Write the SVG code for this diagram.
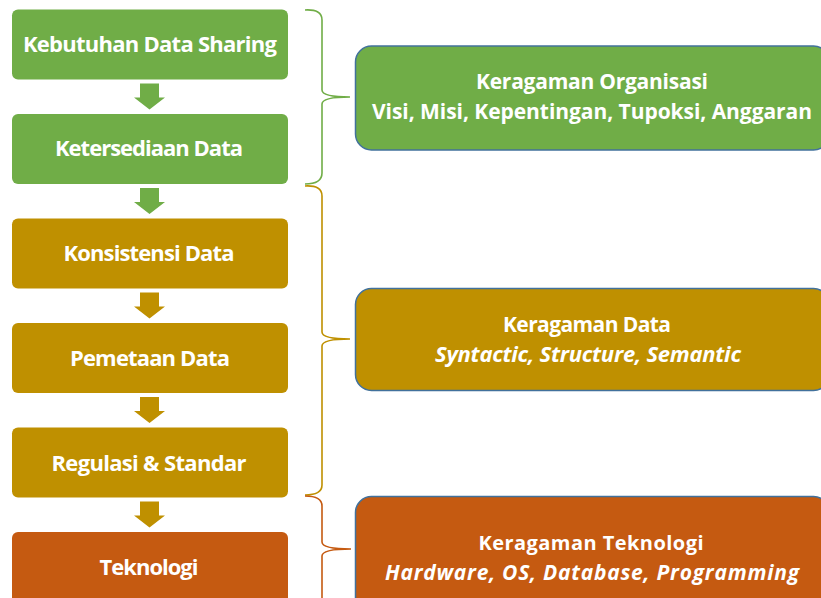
<svg xmlns="http://www.w3.org/2000/svg" width="821" height="598" viewBox="0 0 821 598">
<style>
.lb{stroke:none}
.g{fill:#70AD47}
.y{fill:#BF9000}
.o{fill:#C55A11}
.rb{stroke:#41719C;stroke-width:1.5}
.t{font-family:"Open Sans","Liberation Sans",sans-serif;font-weight:bold;fill:#fff;text-anchor:middle}
.lt{font-size:22px}
.rt{font-size:21px}
.it{font-style:italic;font-size:22px}
.br{fill:none;stroke-width:1.6}
</style>
<rect width="821" height="598" fill="#fff"/>
<g id="n1"><rect class="g" x="12" y="9.5" width="276" height="70" rx="6"/><text class="t lt" x="150" y="52" textLength="254">Kebutuhan Data Sharing</text></g>
<g id="n2"><rect class="g" x="12" y="114" width="276" height="70" rx="6"/><text class="t lt" x="149" y="156" textLength="188">Ketersediaan Data</text></g>
<g id="n3"><rect class="y" x="12" y="218.5" width="276" height="70" rx="6"/><text class="t lt" x="149" y="261" textLength="171">Konsistensi Data</text></g>
<g id="n4"><rect class="y" x="12" y="323" width="276" height="70" rx="6"/><text class="t lt" x="150" y="366" textLength="160">Pemetaan Data</text></g>
<g id="n5"><rect class="y" x="12" y="427.5" width="276" height="70" rx="6"/><text class="t lt" x="149" y="471" textLength="195">Regulasi &amp; Standar</text></g>
<g id="n6"><rect class="o" x="12" y="532" width="276" height="80" rx="6"/><text class="t lt" x="149" y="575" textLength="99">Teknologi</text></g>
<g id="r1"><rect class="g rb" x="355.5" y="46" width="474" height="104" rx="16"/><text class="t rt" x="592" y="89" textLength="232">Keragaman Organisasi</text><text class="t rt" x="592" y="119" textLength="440">Visi, Misi, Kepentingan, Tupoksi, Anggaran</text></g>
<g id="r2"><rect class="y rb" x="355.5" y="288.5" width="474" height="102" rx="16"/><text class="t rt" x="587" y="332" textLength="168">Keragaman Data</text><text class="t rt it" x="588" y="362" textLength="306">Syntactic, Structure, Semantic</text></g>
<g id="r3"><rect class="o rb" x="355.5" y="496.5" width="474" height="120" rx="16"/><text class="t rt" x="591" y="550" textLength="225" style="font-size:20px">Keragaman Teknologi</text><text class="t rt it" x="592" y="580" textLength="414" style="font-size:21px">Hardware, OS, Database, Programming</text></g>
<g id="connectors">
<path class="g" d="M140,83.5h19v14h6l-15.5,12l-15.5,-12h6z"/>
<path class="g" d="M140,188h19v14h6l-15.5,12l-15.5,-12h6z"/>
<path class="y" d="M140,292.5h19v14h6l-15.5,12l-15.5,-12h6z"/>
<path class="y" d="M140,397h19v14h6l-15.5,12l-15.5,-12h6z"/>
<path class="y" d="M140,501.5h19v14h6l-15.5,12l-15.5,-12h6z"/>
<path class="br" stroke="#70AD47" d="M305,10 Q322,9 322,20 L322,90 Q322,97 350,97 Q322,97 322,104 L322,173 Q322,184 305,184"/>
<path class="br" stroke="#BF9000" d="M305,186 Q322,185 322,196 L322,332 Q322,339 350,339 Q322,339 322,346 L322,485 Q322,495 305,495"/>
<path class="br" stroke="#C55A11" d="M305,496 Q322,496 322,506 L322,542 Q322,549 351,549 Q322,549 322,556 L322,598"/>
</g>
</svg>
